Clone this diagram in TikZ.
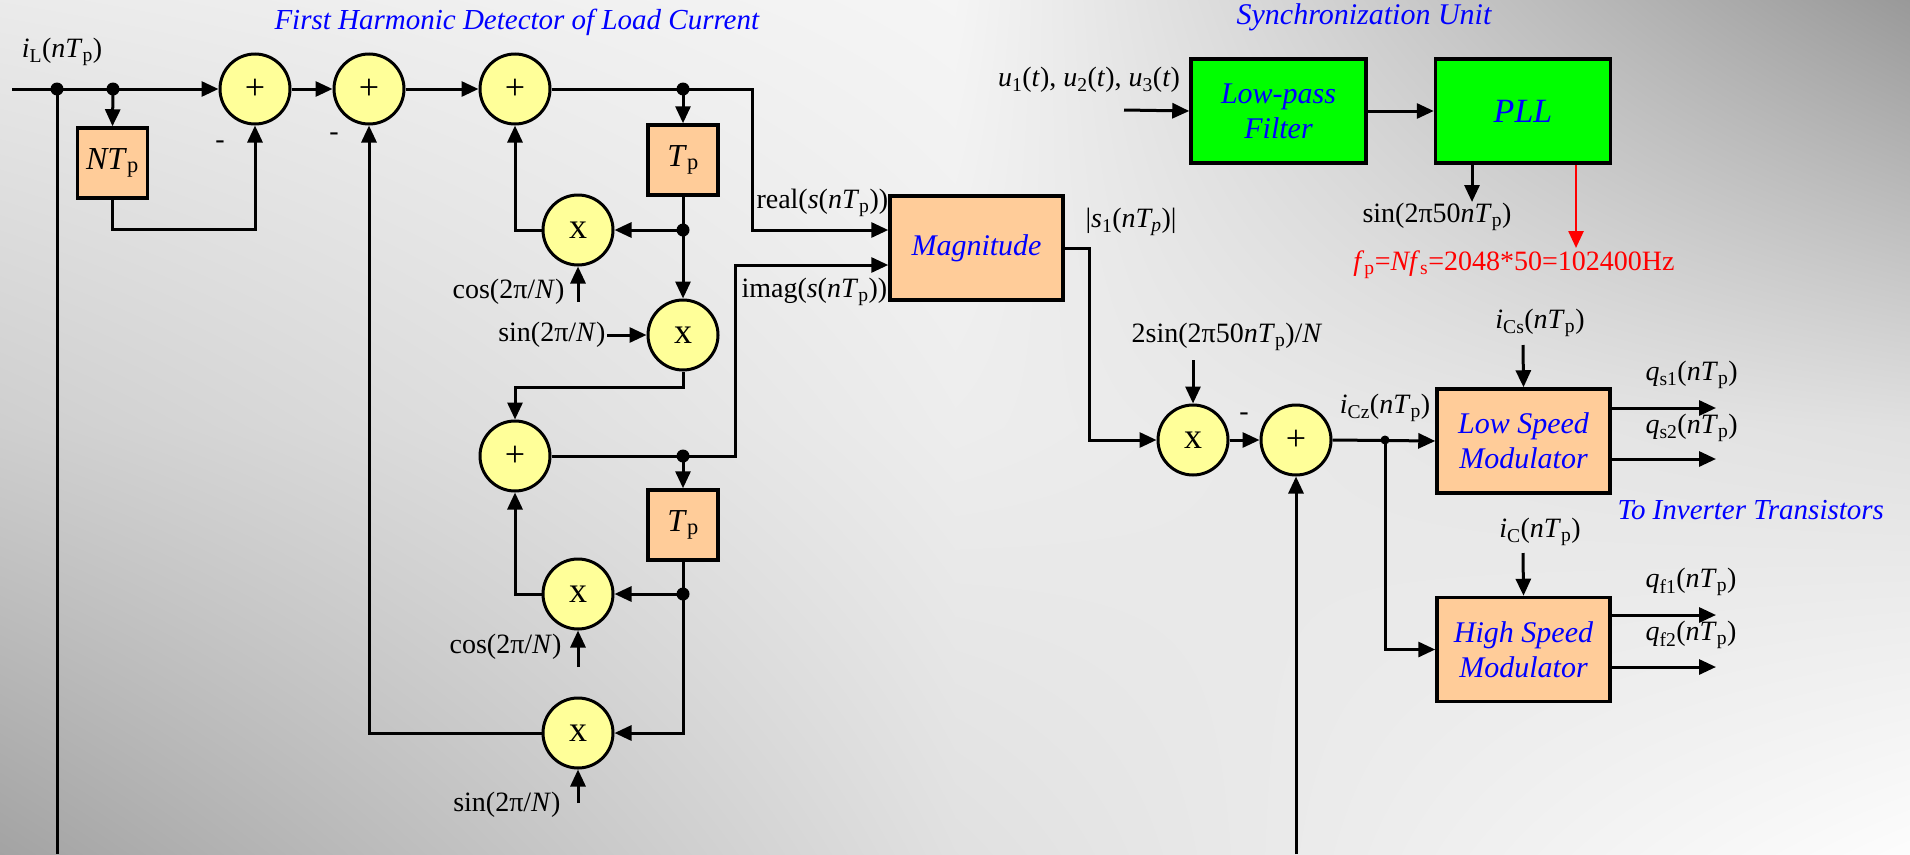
\documentclass[tikz,border=0pt]{standalone}
\usepackage{fontspec}
\setmainfont{Liberation Serif}
\usetikzlibrary{arrows.meta,shadings,calc}
\definecolor{cyel}{HTML}{FFFF99}
\definecolor{corg}{HTML}{FFCC99}
\definecolor{cgrn}{HTML}{00FF00}
\definecolor{cblue}{HTML}{0000FF}
\definecolor{cred}{HTML}{FF0000}
\definecolor{bgA}{gray}{0.92}
\definecolor{bgB}{gray}{0.96}
\definecolor{bgC}{gray}{0.60}
\definecolor{bgD}{gray}{0.81}
\definecolor{bgE}{gray}{0.93}
\definecolor{bgF}{gray}{0.88}
\definecolor{bgG}{gray}{0.64}
\definecolor{bgH}{gray}{0.88}
\definecolor{bgI}{gray}{0.99}
\newcommand{\mysub}[1]{\textsubscript{#1}}
\begin{document}
\begin{tikzpicture}[x=1pt,y=-1pt,line width=3pt,
  every node/.style={font=\fontsize{28}{32}\selectfont,inner sep=0pt},
  arr/.style={-{Triangle[length=17pt,width=15pt]}},
  sumnode/.style={circle,draw,fill=cyel,minimum size=70pt,line width=3pt,font=\fontsize{36}{40}\selectfont},
  boxnode/.style={rectangle,draw,fill=corg,line width=3.5pt},
  sqbox/.style={boxnode,minimum width=70pt,minimum height=70pt,font=\fontsize{32}{36}\selectfont},
  bigbox/.style={boxnode,minimum width=173pt,minimum height=104pt,align=center,text=cblue,font=\fontsize{30}{35}\selectfont\itshape},
  gbox/.style={rectangle,draw,fill=cgrn,line width=3.5pt,minimum width=175pt,minimum height=104pt,align=center,text=cblue,font=\fontsize{30}{35}\selectfont\itshape},
  ttl/.style={font=\fontsize{29}{33}\selectfont\itshape,text=cblue},
  jdot/.style={fill=black}
]
\useasboundingbox (0,0) rectangle (1910,854);
% background
\shade[upper left=bgA,upper right=bgB,lower left=bgD,lower right=bgE] (0,0) rectangle (955,427);
\shade[upper left=bgB,upper right=bgC,lower left=bgE,lower right=bgF] (955,0) rectangle (1910,427);
\shade[upper left=bgD,upper right=bgE,lower left=bgG,lower right=bgH] (0,427) rectangle (955,854);
\shade[upper left=bgE,upper right=bgF,lower left=bgH,lower right=bgI] (955,427) rectangle (1910,854);

% titles
\node[ttl,anchor=west] (t1) at (273,22) {First Harmonic Detector of Load Current};
\node[ttl,font=\fontsize{30}{34}\selectfont\itshape] (t2) at (1364,17) {Synchronization Unit};
\node[ttl,anchor=west] (t3) at (1616,510) {To Inverter Transistors};

% junctions
\coordinate (in) at (12,89);
\coordinate (A) at (57,89);
\coordinate (B) at (113,89);
\coordinate (C) at (683,89);
\coordinate (D) at (683,230);
\coordinate (E) at (683,456);
\coordinate (F) at (683,594);
\coordinate (G) at (1385,440);

% blocks
\node[sumnode] (s1) at (255,89) {+};
\node[sumnode] (s2) at (369,89) {+};
\node[sumnode] (s3) at (515,89) {+};
\node[sumnode] (s4) at (515,456) {+};
\node[sumnode] (m1) at (578,230) {x};
\node[sumnode] (m2) at (683,335) {x};
\node[sumnode] (m3) at (578,594) {x};
\node[sumnode] (m4) at (578,733) {x};
\node[sumnode] (m5) at (1193,440) {x};
\node[sumnode] (s6) at (1296,440) {+};
\node[sqbox] (NTp) at (112.5,163) {\textit{NT}\mysub{p}};
\node[sqbox] (Tp1) at (683,160) {\textit{T}\mysub{p}};
\node[sqbox] (Tp2) at (683,525) {\textit{T}\mysub{p}};
\node[bigbox] (Mag) at (976.5,248) {Magnitude};
\node[bigbox] (LSM) at (1523.5,441) {Low Speed\\Modulator};
\node[bigbox] (HSM) at (1523.5,649.5) {High Speed\\Modulator};
\node[gbox] (LPF) at (1278.5,111) {Low-pass\\Filter};
\node[gbox,font=\fontsize{34}{38}\selectfont\itshape] (PLL) at (1523,111) {PLL};

% labels
\node (lIL) at (62,52) {\textit{i}\mysub{L}(\textit{nT}\mysub{p})};
\node (mi1) at (220,145) {-};
\node (mi2) at (334,137) {-};
\node (mi3) at (1244,417) {-};
\node[anchor=west] (lreal) at (755,203) {real(\textit{s}(\textit{nT}\mysub{p}))};
\node[anchor=west] (limag) at (740,292) {imag(\textit{s}(\textit{nT}\mysub{p}))};
\node (ls1) at (1131,222) {|\textit{s}\mysub{1}(\textit{nT\mysub{p}})|};
\node[anchor=east] (lcos1) at (566,292) {cos(2π/\textit{N})};
\node[anchor=east] (lsin1) at (607,335) {sin(2π/\textit{N})};
\node[anchor=east] (lcos2) at (563,647) {cos(2π/\textit{N})};
\node[anchor=east] (lsin2) at (562,805) {sin(2π/\textit{N})};
\node (lu) at (1089,80) {\textit{u}\mysub{1}(\textit{t}), \textit{u}\mysub{2}(\textit{t}), \textit{u}\mysub{3}(\textit{t})};
\node (lsin50) at (1437,217) {sin(2π50\textit{nT}\mysub{p})};
\node[text=cred] (lfp) at (1514,265) {\textit{f}\mysub{p}=\textit{Nf}\mysub{s}=2048*50=102400Hz};
\node (l2sin) at (1227,337) {2sin(2π50\textit{nT}\mysub{p})/\textit{N}};
\node (liCz) at (1385,408) {\textit{i}\mysub{Cz}(\textit{nT}\mysub{p})};
\node (liCs) at (1540,323) {\textit{i}\mysub{Cs}(\textit{nT}\mysub{p})};
\node (liC) at (1540,532) {\textit{i}\mysub{C}(\textit{nT}\mysub{p})};
\node[anchor=west] (lqs1) at (1644,375) {\textit{q}\mysub{s1}(\textit{nT}\mysub{p})};
\node[anchor=west] (lqs2) at (1644,428) {\textit{q}\mysub{s2}(\textit{nT}\mysub{p})};
\node[anchor=west] (lqf1) at (1644,582) {\textit{q}\mysub{f1}(\textit{nT}\mysub{p})};
\node[anchor=west] (lqf2) at (1644,635) {\textit{q}\mysub{f2}(\textit{nT}\mysub{p})};

% helper coordinates
\coordinate (k1) at (255,229);
\coordinate (r1) at (752,89);
\coordinate (r2) at (735,456);
\coordinate (imy) at (735,265);
\coordinate (k2) at (683,387);
\coordinate (k3) at (1089,248);
\coordinate (bA) at (57,854);
\coordinate (bS) at (1296,854);
\coordinate (tcos1) at (578,302);
\coordinate (tcos2) at (578,667);
\coordinate (tsin2) at (578,803);
\coordinate (t2sin) at (1193,360);
\coordinate (uin) at (1124,110);
\coordinate (pllo) at (1472,202);
\coordinate (redo) at (1576,248);
\coordinate (tiCs) at (1523,345);
\coordinate (tiC) at (1523,553);
\coordinate (o1) at (1716,408);
\coordinate (o2) at (1716,459);
\coordinate (o3) at (1716,615);
\coordinate (o4) at (1716,667);

% connectors: harmonic detector
\draw[arr] (in) -- (s1.west);
\draw (A) -- (bA);
\draw[arr] (B) -- (NTp.north);
\draw[arr] (NTp.south) |- (k1) -- (s1.south);
\draw[arr] (s1.east) -- (s2.west);
\draw[arr] (s2.east) -- (s3.west);
\draw[arr] (s3.east) -- (r1) |- (Mag.west |- D);
\draw[arr] (C) -- (Tp1.north);
\draw[arr] (Tp1.south) -- (m2.north);
\draw[arr] (D) -- (m1.east);
\draw[arr] (m1.west) -| (s3.south);
\draw[arr] (tcos1) -- (m1.south);
\draw[arr] (lsin1.east) -- (m2.west);
\draw[arr] (m2.south) -- (k2) -| (s4.north);
\draw[arr] (s4.east) -- (r2) |- (Mag.west |- imy);
\draw[arr] (E) -- (Tp2.north);
\draw[arr] (Tp2.south) |- (m4.east);
\draw[arr] (F) -- (m3.east);
\draw[arr] (m3.west) -| (s4.south);
\draw[arr] (tcos2) -- (m3.south);
\draw[arr] (tsin2) -- (m4.south);
\draw[arr] (m4.west) -| (s2.south);

% connectors: right part
\draw[arr] (Mag.east |- k3) -- (k3) |- (m5.west);
\draw[arr] (t2sin) -- (m5.north);
\draw[arr] (m5.east) -- (s6.west);
\draw[arr] (bS) -- (s6.south);
\draw[arr] (s6.east) -- (LSM.west);
\draw[arr] (G) |- (HSM.west);
\draw[arr] (tiCs) -- (LSM.north);
\draw[arr] (tiC) -- (HSM.north);
\draw[arr] (LSM.east |- o1) -- (o1);
\draw[arr] (LSM.east |- o2) -- (o2);
\draw[arr] (HSM.east |- o3) -- (o3);
\draw[arr] (HSM.east |- o4) -- (o4);

% synchronization
\draw[arr] (uin) -- (LPF.west);
\draw[arr] (LPF.east) -- (PLL.west);
\draw[arr] (PLL.south -| pllo) -- (pllo);
\draw[arr,cred,line width=2.5pt] (PLL.south -| redo) -- (redo);

% dots
\foreach \p in {A,B,C,D,E,F}{\fill[jdot] (\p) circle[radius=6.5pt];}
\fill[jdot] (G) circle[radius=4.5pt];
\end{tikzpicture}
\end{document}
